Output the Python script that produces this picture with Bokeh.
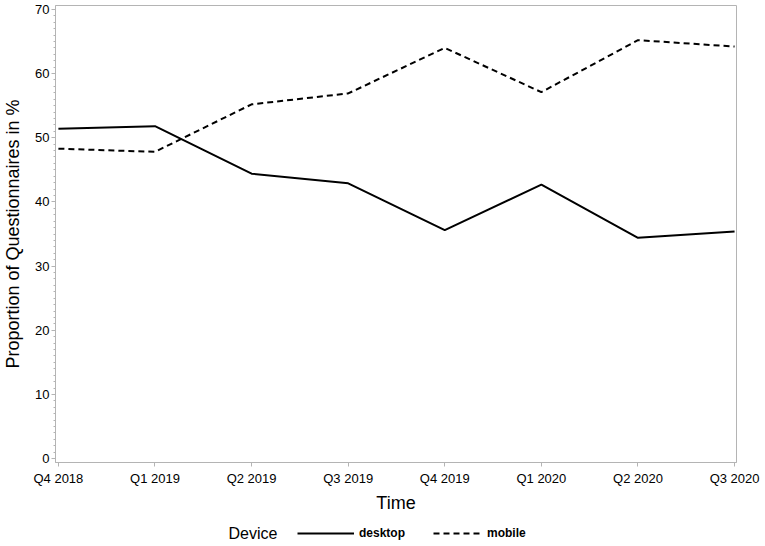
from bokeh.plotting import figure
from bokeh.layouts import column
from bokeh.models import Range1d, FixedTicker, Legend, LegendItem, Label
from bokeh.embed import file_html
from bokeh.resources import INLINE

quarters = ["Q4 2018", "Q1 2019", "Q2 2019", "Q3 2019", "Q4 2019", "Q1 2020", "Q2 2020", "Q3 2020"]
desktop = [51.4, 51.8, 44.4, 42.9, 35.6, 42.7, 34.4, 35.4]
mobile = [48.3, 47.8, 55.2, 56.9, 64.0, 57.1, 65.2, 64.2]
y_ticks = [0, 10, 20, 30, 40, 50, 60, 70]

x = list(range(len(quarters)))
FONT = "Liberation Sans"
GRAY = "#b4b4b4"
W = 762
BL, BR = 55, 26
FW = W - BL - BR

p = figure(width=W, height=520, output_backend="svg", toolbar_location=None,
           x_range=Range1d(-0.03, 7.02), y_range=Range1d(-0.6, 70.6),
           min_border_left=BL, min_border_right=BR, min_border_top=5, min_border_bottom=58)
p.xgrid.visible = False
p.ygrid.visible = False
p.outline_line_color = GRAY
p.outline_line_width = 1

p.line(x, desktop, line_color="black", line_width=2)
p.line(x, mobile, line_color="black", line_width=2, line_dash="6 4")

p.xaxis.ticker = FixedTicker(ticks=x)
p.xaxis.major_label_overrides = {i: q for i, q in zip(x, quarters)}
p.yaxis.ticker = FixedTicker(ticks=y_ticks, minor_ticks=list(range(0, 71)))

for ax in (p.xaxis[0], p.yaxis[0]):
    ax.axis_line_color = GRAY
    ax.major_tick_line_color = GRAY
    ax.minor_tick_line_color = GRAY
    ax.major_tick_out = 4
    ax.major_tick_in = 0
    ax.minor_tick_out = 2
    ax.minor_tick_in = 0
    ax.major_label_text_font = FONT
    ax.major_label_text_font_size = "13px"
    ax.major_label_text_color = "black"
    ax.axis_label_text_font = FONT
    ax.axis_label_text_font_size = "18px"
    ax.axis_label_text_font_style = "normal"
    ax.axis_label_text_color = "black"

p.xaxis.minor_tick_line_color = None
p.xaxis.major_label_standoff = 4
p.yaxis.major_label_standoff = 2
p.xaxis.axis_label = "Time"
p.yaxis.axis_label = "Proportion of Questionnaires in %"
p.xaxis.axis_label_standoff = 4
p.yaxis.axis_label_standoff = 9

# legend row: a borderless strip below the chart
lg = figure(width=W, height=26, output_backend="svg", toolbar_location=None,
            x_range=Range1d(0, FW), y_range=Range1d(0, 1),
            min_border_left=0, min_border_right=0, min_border_top=0, min_border_bottom=0)
lg.axis.visible = False
lg.xgrid.visible = False
lg.ygrid.visible = False
lg.outline_line_color = None
d1 = lg.line(x, desktop, line_color="black", line_width=2)
d2 = lg.line(x, mobile, line_color="black", line_width=2, line_dash="6 4")

common = dict(orientation="horizontal", glyph_height=14, label_height=14,
              label_text_font=FONT, label_text_font_size="12px",
              label_text_font_style="bold", label_text_color="black",
              border_line_color=None, background_fill_alpha=0, padding=0, margin=0)
leg1 = Legend(items=[LegendItem(label="desktop", renderers=[d1])],
              location=(242, 6), glyph_width=57, label_standoff=5, **common)
leg2 = Legend(items=[LegendItem(label="mobile", renderers=[d2])],
              location=(378, 6), glyph_width=50, label_standoff=4, **common)
lg.add_layout(leg1, "center")
lg.add_layout(leg2, "center")
lg.add_layout(Label(x=173, y=0.5, text="Device",
                    text_font=FONT, text_font_size="16px", text_color="black",
                    text_baseline="middle"))

layout = column(p, lg, spacing=0)
open("out.html", "w").write(file_html(layout, INLINE))
